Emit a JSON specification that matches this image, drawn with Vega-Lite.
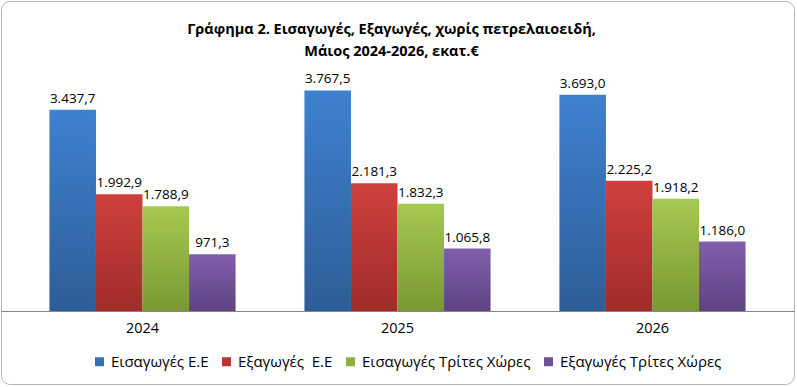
{
  "$schema": "https://vega.github.io/schema/vega-lite/v6.json",
  "width": 793,
  "height": 383,
  "autosize": {"type": "none"},
  "padding": {"left": 1, "top": 1, "right": 3, "bottom": 3},
  "config": {
    "font": "Open Sans",
    "view": {"stroke": "#b4b4b4", "strokeWidth": 1, "cornerRadius": 9},
    "locale": {
      "number": {"decimal": ",", "thousands": ".", "grouping": [3], "currency": ["", "\u00a0€"]}
    }
  },
  "title": {
    "text": ["Γράφημα 2. Εισαγωγές, Εξαγωγές, χωρίς πετρελαιοειδή,", "Μάιος 2024-2026, εκατ.€"],
    "orient": "top",
    "anchor": "middle",
    "frame": "group",
    "offset": -58,
    "dx": -6,
    "font": "Open Sans",
    "fontSize": 14.5,
    "fontWeight": "bold",
    "color": "#000000",
    "lineHeight": 22
  },
  "data": {
    "values": [
      {"year": "2024", "series": "Εισαγωγές Ε.Ε", "value": 3437.7},
      {"year": "2024", "series": "Εξαγωγές\u00a0 Ε.Ε", "value": 1992.9},
      {"year": "2024", "series": "Εισαγωγές Τρίτες Χώρες", "value": 1788.9},
      {"year": "2024", "series": "Εξαγωγές Τρίτες Χώρες", "value": 971.3},
      {"year": "2025", "series": "Εισαγωγές Ε.Ε", "value": 3767.5},
      {"year": "2025", "series": "Εξαγωγές\u00a0 Ε.Ε", "value": 2181.3},
      {"year": "2025", "series": "Εισαγωγές Τρίτες Χώρες", "value": 1832.3},
      {"year": "2025", "series": "Εξαγωγές Τρίτες Χώρες", "value": 1065.8},
      {"year": "2026", "series": "Εισαγωγές Ε.Ε", "value": 3693.0},
      {"year": "2026", "series": "Εξαγωγές\u00a0 Ε.Ε", "value": 2225.2},
      {"year": "2026", "series": "Εισαγωγές Τρίτες Χώρες", "value": 1918.2},
      {"year": "2026", "series": "Εξαγωγές Τρίτες Χώρες", "value": 1186.0}
    ]
  },
  "encoding": {
    "x": {
      "field": "year",
      "type": "nominal",
      "scale": {"paddingInner": 0.27, "paddingOuter": 0.19},
      "axis": {
        "title": null,
        "orient": "bottom",
        "offset": -73,
        "labelAngle": 0,
        "ticks": false,
        "domainColor": "#868686",
        "domainWidth": 1,
        "labelFont": "Open Sans",
        "labelFontSize": 14.5,
        "labelColor": "#000000",
        "labelPadding": 10,
        "zindex": 1
      }
    },
    "xOffset": {
      "field": "series",
      "type": "nominal",
      "sort": ["Εισαγωγές Ε.Ε", "Εξαγωγές\u00a0 Ε.Ε", "Εισαγωγές Τρίτες Χώρες", "Εξαγωγές Τρίτες Χώρες"],
      "scale": {"paddingInner": 0, "paddingOuter": 0}
    },
    "y": {
      "field": "value",
      "type": "quantitative",
      "scale": {"domain": [-1247, 5295], "nice": false, "zero": false},
      "axis": null
    }
  },
  "layer": [
    {
      "mark": {"type": "bar"},
      "encoding": {
        "y2": {"datum": 0},
        "color": {
          "condition": [
            {"test": "datum.series === 'Εισαγωγές Ε.Ε'", "value": {"gradient": "linear", "x1": 0, "y1": 0, "x2": 0, "y2": 1, "stops": [{"offset": 0, "color": "#3e81d0"}, {"offset": 1, "color": "#2e5d97"}]}},
            {"test": "datum.series === 'Εξαγωγές\u00a0 Ε.Ε'", "value": {"gradient": "linear", "x1": 0, "y1": 0, "x2": 0, "y2": 1, "stops": [{"offset": 0, "color": "#cf403d"}, {"offset": 1, "color": "#a02c2a"}]}},
            {"test": "datum.series === 'Εισαγωγές Τρίτες Χώρες'", "value": {"gradient": "linear", "x1": 0, "y1": 0, "x2": 0, "y2": 1, "stops": [{"offset": 0, "color": "#a6c950"}, {"offset": 1, "color": "#789834"}]}},
            {"test": "datum.series === 'Εξαγωγές Τρίτες Χώρες'", "value": {"gradient": "linear", "x1": 0, "y1": 0, "x2": 0, "y2": 1, "stops": [{"offset": 0, "color": "#805eac"}, {"offset": 1, "color": "#5e4383"}]}}
          ],
          "field": "series",
          "type": "nominal",
          "sort": ["Εισαγωγές Ε.Ε", "Εξαγωγές\u00a0 Ε.Ε", "Εισαγωγές Τρίτες Χώρες", "Εξαγωγές Τρίτες Χώρες"],
          "scale": {
            "domain": ["Εισαγωγές Ε.Ε", "Εξαγωγές\u00a0 Ε.Ε", "Εισαγωγές Τρίτες Χώρες", "Εξαγωγές Τρίτες Χώρες"],
            "range": ["#3670b6", "#b83533", "#8fb043", "#6e5097"]
          },
          "legend": {
            "title": null,
            "orient": "none",
            "legendX": 91,
            "legendY": 353,
            "direction": "horizontal",
            "columns": 4,
            "symbolType": "square",
            "symbolSize": 81,
            "symbolStrokeWidth": 0,
            "symbolOpacity": 1,
            "labelFont": "Open Sans",
            "labelFontSize": 15,
            "labelColor": "#000000",
            "labelOffset": 4,
            "columnPadding": 10,
            "labelLimit": 300
          }
        }
      }
    },
    {
      "mark": {"type": "text", "baseline": "alphabetic", "dy": -7, "font": "Open Sans", "fontSize": 13.5, "color": "#000000"},
      "encoding": {
        "text": {"field": "value", "type": "quantitative", "format": ",.1f"}
      }
    }
  ]
}
